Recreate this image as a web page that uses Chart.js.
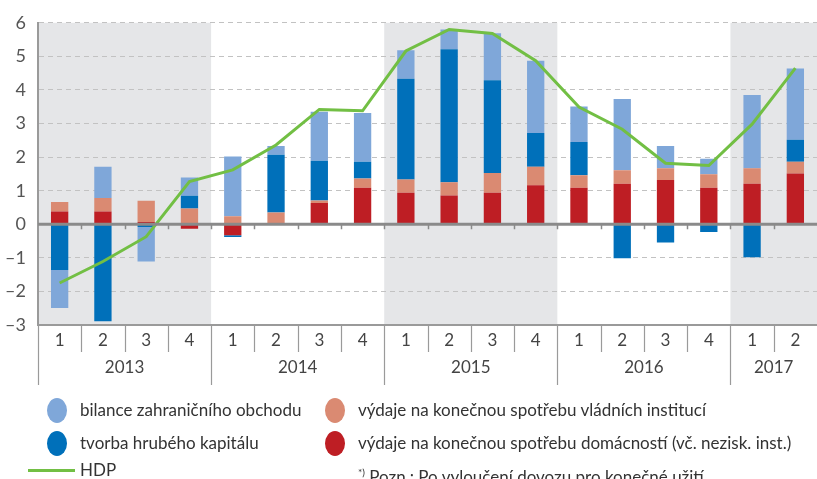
<!DOCTYPE html>
<html lang="cs">
<head>
<meta charset="UTF-8">
<title>Příspěvky k růstu HDP</title>
<script src="https://cdn.jsdelivr.net/npm/chart.js@4.4.0/dist/chart.umd.min.js"></script>
<style>
  html, body { margin: 0; padding: 0; background: #fff; }
  #wrap { position: relative; width: 817px; height: 479px; overflow: hidden; font-family: Lato, sans-serif; color: #333; }
  #wrap canvas { position: absolute; left: 0; top: 0; }
  .lg { position: absolute; font-size: 17px; white-space: nowrap; line-height: 20px; }
  .dot { position: absolute; width: 20px; height: 25px; border-radius: 50%; }
  .ln { position: absolute; height: 3px; background: #72bf44; }
  sup { font-size: 10px; }
</style>
</head>
<body>
<div id="wrap">
  <canvas id="c" width="817" height="479"></canvas>

  <div class="dot" style="left:47px; top:398px; background:#7fa7d9"></div>
  <div class="lg" style="left:80px; top:400px">bilance zahraničního obchodu</div>
  <div class="dot" style="left:325px; top:398px; background:#da8a72"></div>
  <div class="lg" style="left:358px; top:400px">výdaje na konečnou spotřebu vládních institucí</div>

  <div class="dot" style="left:47px; top:431px; background:#0070ba"></div>
  <div class="lg" style="left:80px; top:433px">tvorba hrubého kapitálu</div>
  <div class="dot" style="left:325px; top:431px; background:#be1e24"></div>
  <div class="lg" style="left:358px; top:433px">výdaje na konečnou spotřebu domácností (vč. nezisk. inst.)</div>

  <div class="ln" style="left:28px; top:469px; width:47px"></div>
  <div class="lg" style="left:80px; top:460px">HDP</div>
  <div class="lg" style="left:358px; top:462px; font-size:17px"><sup>*)</sup> Pozn.: Po vyloučení dovozu pro konečné užití.</div>
</div>

<script>
// čtvrtletí a roky
const quarters = ['1','2','3','4','1','2','3','4','1','2','3','4','1','2','3','4','1','2'];
const years = ['2013','2014','2015','2016','2017'];
const yearSpans = [4, 4, 4, 4, 2];
const shadedYears = [0, 2, 4];

// příspěvky (p.b.)
const bilance   = [-1.13, 0.93, -1.03, 0.54, 1.78, 0.26, 1.46, 1.45, 0.85, 0.59, 1.40, 2.15, 1.06, 2.12, 0.66, 0.46, 2.18, 2.12];
const vladni    = [0.28, 0.40, 0.63, 0.47, 0.24, 0.35, 0.08, 0.27, 0.39, 0.39, 0.59, 0.55, 0.37, 0.40, 0.35, 0.40, 0.46, 0.35];
const kapital   = [-1.36, -2.89, -0.08, 0.38, -0.05, 1.72, 1.18, 0.50, 3.00, 3.96, 2.76, 1.01, 0.99, -1.01, -0.54, -0.23, -0.98, 0.66];
const domacnosti = [0.38, 0.38, 0.07, -0.13, -0.33, 0, 0.63, 1.09, 0.94, 0.86, 0.94, 1.16, 1.09, 1.21, 1.32, 1.09, 1.21, 1.51];
const hdp       = [-1.75, -1.11, -0.37, 1.27, 1.62, 2.36, 3.42, 3.38, 5.16, 5.80, 5.68, 4.87, 3.49, 2.83, 1.82, 1.75, 2.98, 4.65];

const FONT = 'Lato, sans-serif';

// pozadí pro roky + spodní osa s čtvrtletími a roky
const decor = {
  id: 'decor',
  beforeDraw(chart) {
    const { ctx, chartArea: a, scales: { x } } = chart;
    const half = (x.getPixelForValue(1) - x.getPixelForValue(0)) / 2;
    let start = 0;
    ctx.save();
    ctx.fillStyle = '#e5e6e8';
    yearSpans.forEach((n, i) => {
      if (shadedYears.includes(i)) {
        const l = x.getPixelForValue(start) - half;
        const r = Math.min(x.getPixelForValue(start + n - 1) + half, a.right);
        ctx.fillRect(l, a.top, r - l, a.bottom - a.top);
      }
      start += n;
    });
    ctx.restore();
  },
  afterDatasetsDraw(chart) {
    const { ctx, chartArea: a, scales: { x, y } } = chart;
    const half = (x.getPixelForValue(1) - x.getPixelForValue(0)) / 2;
    const y0 = y.getPixelForValue(0);
    ctx.save();
    // nulová linie
    ctx.strokeStyle = '#8a8a8a';
    ctx.lineWidth = 3;
    ctx.beginPath(); ctx.moveTo(a.left, y0); ctx.lineTo(a.right, y0); ctx.stroke();
    ctx.lineWidth = 1.5;
    for (let i = 1; i < quarters.length; i++) {
      const px = Math.round(x.getPixelForValue(i) - half) + 0.5;
      ctx.beginPath(); ctx.moveTo(px, y0); ctx.lineTo(px, y0 + 5); ctx.stroke();
    }
    // spodní osa
    ctx.strokeStyle = '#9a9a9a';
    ctx.lineWidth = 2;
    ctx.beginPath(); ctx.moveTo(a.left, a.bottom); ctx.lineTo(a.right, a.bottom); ctx.stroke();
    ctx.lineWidth = 1.2;
    ctx.fillStyle = '#444';
    ctx.textAlign = 'center';
    ctx.textBaseline = 'middle';
    ctx.font = '17px ' + FONT;
    let idx = 0;
    yearSpans.forEach((n, i) => {
      for (let k = 0; k < n; k++) {
        const c = x.getPixelForValue(idx + k);
        const px = Math.round(c - half) + 0.5;
        ctx.beginPath();
        ctx.moveTo(px, a.bottom);
        ctx.lineTo(px, k === 0 ? a.bottom + 60 : a.bottom + 27);
        ctx.stroke();
        ctx.fillText(quarters[idx + k], c, a.bottom + 16);
      }
      const l = x.getPixelForValue(idx) - half;
      const r = Math.min(x.getPixelForValue(idx + n - 1) + half, a.right);
      ctx.fillText(years[i], (l + r) / 2, a.bottom + 43);
      idx += n;
    });
    ctx.restore();
  }
};

const barCommon = { type: 'bar', stack: 'p', order: 1, barPercentage: 0.4, categoryPercentage: 1, borderWidth: 0 };

new Chart(document.getElementById('c'), {
  data: {
    labels: quarters,
    datasets: [
      { ...barCommon, label: 'výdaje na konečnou spotřebu domácností (vč. nezisk. inst.)', data: domacnosti, backgroundColor: '#be1e24' },
      { ...barCommon, label: 'výdaje na konečnou spotřebu vládních institucí', data: vladni, backgroundColor: '#da8a72' },
      { ...barCommon, label: 'tvorba hrubého kapitálu', data: kapital, backgroundColor: '#0070ba' },
      { ...barCommon, label: 'bilance zahraničního obchodu', data: bilance, backgroundColor: '#7fa7d9' },
      { type: 'line', label: 'HDP', data: hdp, stack: 'hdp', order: 0, borderColor: '#72bf44', borderWidth: 3, pointRadius: 0, tension: 0, fill: false }
    ]
  },
  options: {
    responsive: false,
    animation: false,
    layout: { padding: { top: 21, right: 0, bottom: 154, left: 0 } },
    plugins: { legend: { display: false }, tooltip: { enabled: false } },
    scales: {
      x: { display: false, stacked: true, offset: true },
      y: {
        stacked: true,
        min: -3, max: 6,
        afterFit(s) { s.width = 38; },
        ticks: {
          stepSize: 1, padding: 12, color: '#555',
          font: { family: FONT, size: 18 },
          callback: v => v < 0 ? '–' + Math.abs(v) : String(v)
        },
        grid: { color: '#c2c2c2', lineWidth: 1, drawTicks: false },
        border: { display: true, color: '#9a9a9a', width: 2, dash: [5, 4] }
      }
    }
  },
  plugins: [decor]
});
</script>
</body>
</html>
